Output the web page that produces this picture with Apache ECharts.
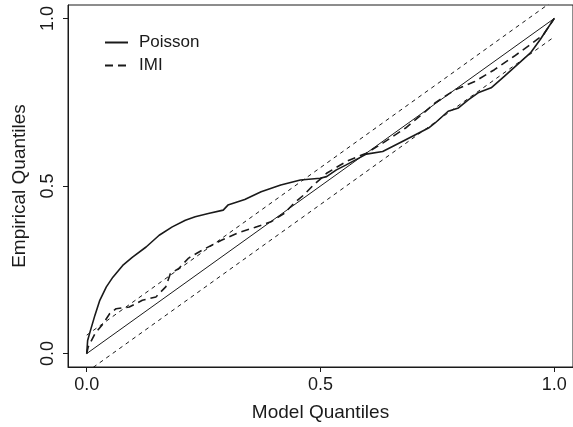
<!DOCTYPE html>
<html>
<head>
<meta charset="utf-8">
<script src="https://cdn.jsdelivr.net/npm/echarts@6/dist/echarts.min.js"></script>
<style>
html,body{margin:0;padding:0;background:#fff;}
#c{width:573px;height:427px;}
</style>
</head>
<body>
<div id="c"></div>
<script>
const xTicks = [0, 0.5, 1];
const yTicks = [0, 0.5, 1];
const tickLabels = ['0.0', '0.5', '1.0'];
const bandOffset = 0.055;

const poissonX = [0, 0.002, 0.007, 0.0175, 0.028, 0.042, 0.056, 0.077, 0.098, 0.127, 0.155, 0.183, 0.211, 0.232, 0.26, 0.292, 0.302, 0.338, 0.373, 0.415, 0.457, 0.499, 0.513, 0.534, 0.555, 0.598, 0.633, 0.675, 0.703, 0.731, 0.745, 0.773, 0.795, 0.816, 0.837, 0.865, 0.893, 0.921, 0.949, 0.97, 0.984, 1.0];
const poissonY = [0, 0.039, 0.064, 0.114, 0.159, 0.199, 0.228, 0.263, 0.288, 0.318, 0.353, 0.378, 0.398, 0.408, 0.418, 0.428, 0.443, 0.46, 0.483, 0.503, 0.518, 0.523, 0.528, 0.548, 0.563, 0.595, 0.603, 0.633, 0.653, 0.673, 0.688, 0.723, 0.733, 0.757, 0.778, 0.793, 0.827, 0.862, 0.897, 0.937, 0.967, 1.0];

const imiX = [0, 0.003, 0.0175, 0.035, 0.049, 0.063, 0.091, 0.119, 0.148, 0.169, 0.179, 0.197, 0.218, 0.246, 0.288, 0.323, 0.359, 0.394, 0.422, 0.443, 0.464, 0.485, 0.506, 0.513, 0.555, 0.598, 0.633, 0.682, 0.724, 0.745, 0.788, 0.83, 0.872, 0.914, 0.949, 0.977, 1.0];
const imiY = [0, 0.019, 0.059, 0.089, 0.119, 0.134, 0.139, 0.159, 0.169, 0.199, 0.239, 0.254, 0.285, 0.308, 0.338, 0.36, 0.376, 0.393, 0.418, 0.448, 0.473, 0.503, 0.528, 0.538, 0.573, 0.598, 0.628, 0.673, 0.722, 0.748, 0.787, 0.812, 0.847, 0.887, 0.922, 0.952, 1.0];

const diagX = [0, 1];
const diagY = [0, 1];

const zip = (xs, ys) => xs.map((x, i) => [x, ys[i]]);
const FONT = "'Liberation Sans', Arial, Helvetica, sans-serif";
const INK = '#1a1a1a';

const chart = echarts.init(document.getElementById('c'), null, {renderer: 'canvas'});
const labelFmt = v => {
  const i = xTicks.findIndex(t => Math.abs(t - v) < 1e-9);
  return i >= 0 ? tickLabels[i] : '';
};
chart.setOption({
  animation: false,
  backgroundColor: '#fff',
  grid: {left: 68, top: 5, width: 512, height: 362, show: true, borderColor: INK, borderWidth: 1, backgroundColor: 'transparent'},
  legend: {
    data: ['Poisson', 'IMI'],
    orient: 'vertical',
    left: 104, top: 34, padding: 0,
    itemWidth: 23, itemHeight: 14, itemGap: 6,
    itemStyle: {opacity: 0},
    textStyle: {fontFamily: FONT, fontSize: 17, lineHeight: 14, color: INK, padding: [0, 0, 0, 6]}
  },
  xAxis: {
    type: 'value', min: -0.04, max: 1.04,
    name: 'Model Quantiles', nameLocation: 'middle', nameGap: 36,
    nameTextStyle: {fontFamily: FONT, fontSize: 19, color: INK},
    axisLine: {show: true, onZero: false, lineStyle: {color: INK, width: 1}},
    axisTick: {show: true, length: 5, customValues: xTicks, lineStyle: {color: INK}},
    axisLabel: {customValues: xTicks, formatter: labelFmt, fontFamily: FONT, fontSize: 18, color: INK, margin: 9},
    splitLine: {show: false}
  },
  yAxis: {
    type: 'value', min: -0.04, max: 1.04,
    name: 'Empirical Quantiles', nameLocation: 'middle', nameGap: 39, nameRotate: 90,
    nameTextStyle: {fontFamily: FONT, fontSize: 19, color: INK},
    axisLine: {show: true, onZero: false, lineStyle: {color: INK, width: 1}},
    axisTick: {show: true, length: 5, customValues: yTicks, lineStyle: {color: INK}},
    axisLabel: {customValues: yTicks, formatter: labelFmt, rotate: 90, fontFamily: FONT, fontSize: 18, color: INK, margin: 11},
    splitLine: {show: false}
  },
  series: [
    {name: 'Poisson', type: 'line', data: zip(poissonX, poissonY), symbol: 'none', clip: true,
     lineStyle: {color: INK, width: 1.6, type: 'solid'}, itemStyle: {color: INK}},
    {name: 'IMI', type: 'line', data: zip(imiX, imiY), symbol: 'none', clip: true,
     lineStyle: {color: INK, width: 1.6, type: [8, 5]}, itemStyle: {color: INK}},
    {name: 'diag', type: 'line', data: zip(diagX, diagY), symbol: 'none', clip: true, silent: true,
     lineStyle: {color: INK, width: 1}},
    {name: 'upper', type: 'line', data: zip(diagX, diagY.map(v => v + bandOffset)), symbol: 'none', clip: true, silent: true,
     lineStyle: {color: INK, width: 1, type: [4, 4]}},
    {name: 'lower', type: 'line', data: zip(diagX, diagY.map(v => v - bandOffset)), symbol: 'none', clip: true, silent: true,
     lineStyle: {color: INK, width: 1, type: [4, 4]}}
  ]
});
</script>
</body>
</html>
